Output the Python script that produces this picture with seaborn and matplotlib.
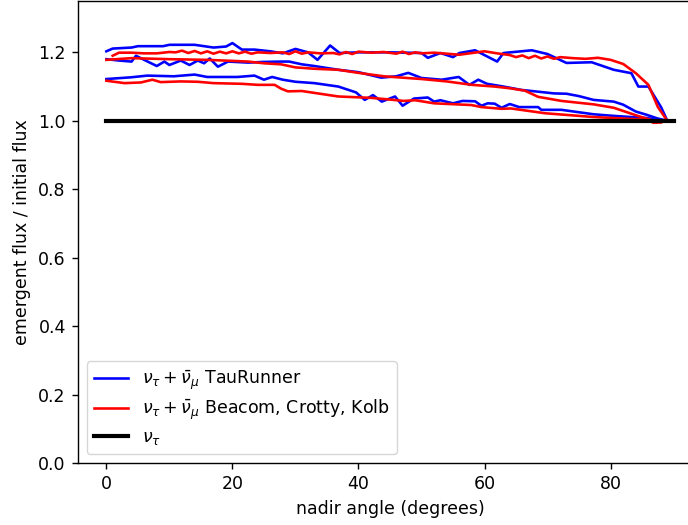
import matplotlib
matplotlib.use("Agg")
import matplotlib.pyplot as plt
import seaborn as sns
import pandas as pd

# ---- data ----
bt_x = [0, 1, 4, 5, 9, 10, 14, 17, 19, 20, 21.5, 23.5, 26, 28, 30, 32, 33.5, 35.5, 37, 40, 45, 50, 51, 53, 55, 56, 58.5, 62, 63, 67.5, 70, 73, 77, 80.5, 83.3, 84.4, 86, 88, 89]
bt_y = [1.203, 1.211, 1.214, 1.218, 1.218, 1.222, 1.222, 1.214, 1.217, 1.227, 1.208, 1.208, 1.203, 1.197, 1.21, 1.20, 1.178, 1.22, 1.198, 1.20, 1.20, 1.198, 1.184, 1.198, 1.186, 1.198, 1.206, 1.173, 1.198, 1.206, 1.195, 1.169, 1.171, 1.149, 1.139, 1.10, 1.10, 1.04, 1.0]

rt_x = [1, 2, 4, 6, 8, 10, 11, 12, 13, 14, 15, 16, 17, 18, 19, 20, 21, 22, 23, 24, 26, 28, 29, 30, 31, 32, 34, 36, 37, 38, 39, 40, 42, 44, 46, 47, 48, 49, 50, 52, 54, 56, 58, 60, 62, 64, 65, 66, 67, 68, 69, 70, 71, 72, 74, 76, 78, 80, 82, 84, 86, 87.5, 89]
rt_y = [1.19, 1.199, 1.199, 1.197, 1.197, 1.201, 1.20, 1.205, 1.198, 1.204, 1.197, 1.203, 1.196, 1.202, 1.197, 1.203, 1.197, 1.202, 1.196, 1.20, 1.198, 1.200, 1.195, 1.203, 1.196, 1.200, 1.197, 1.198, 1.194, 1.201, 1.195, 1.202, 1.199, 1.201, 1.196, 1.202, 1.195, 1.200, 1.197, 1.199, 1.196, 1.193, 1.198, 1.203, 1.197, 1.192, 1.186, 1.191, 1.183, 1.190, 1.182, 1.188, 1.181, 1.186, 1.183, 1.181, 1.184, 1.178, 1.166, 1.139, 1.105, 1.04, 1.0]

bm_x = [0, 2, 4, 4.7, 6, 8, 9.2, 10, 11.8, 13.2, 14.5, 15.5, 16.4, 17.7, 19.3, 22.5, 25, 27.7, 29, 31, 33, 36.8, 40, 43.6, 46, 47.9, 50, 53.2, 55.9, 57.6, 59, 60.4, 63, 65.9, 68.5, 71, 73, 75, 77.3, 80.5, 82, 84, 85.8, 87.4, 89]
bm_y = [1.18, 1.176, 1.173, 1.19, 1.178, 1.16, 1.173, 1.163, 1.176, 1.163, 1.176, 1.168, 1.182, 1.158, 1.173, 1.17, 1.172, 1.173, 1.173, 1.165, 1.16, 1.149, 1.142, 1.126, 1.13, 1.14, 1.125, 1.12, 1.128, 1.105, 1.12, 1.108, 1.10, 1.09, 1.085, 1.08, 1.079, 1.072, 1.061, 1.056, 1.047, 1.027, 1.017, 1.007, 1.0]

rm_x = [0, 4, 10, 16, 20, 22.5, 25, 27.7, 30, 33, 36.8, 40, 44, 47, 50, 54, 58, 61.6, 64, 66.4, 68.5, 72.2, 77.3, 80.5, 84.2, 86.8, 88]
rm_y = [1.178, 1.183, 1.18, 1.178, 1.175, 1.173, 1.168, 1.165, 1.156, 1.152, 1.149, 1.14, 1.13, 1.126, 1.122, 1.115, 1.105, 1.10, 1.095, 1.088, 1.07, 1.058, 1.048, 1.038, 1.015, 1.0, 0.998]

bl_x = [0, 3.9, 6.5, 10.7, 14, 16, 20.8, 23.5, 25, 26.3, 28, 30, 33, 36.8, 39.6, 41, 42.3, 43.7, 45.8, 47, 48.8, 51, 52, 53, 55, 56.5, 58.5, 59.5, 60.5, 61.6, 62.7, 64, 65.5, 68.5, 69, 72.2, 77.3, 80, 84, 85.8, 88]
bl_y = [1.122, 1.127, 1.132, 1.13, 1.135, 1.128, 1.128, 1.132, 1.12, 1.128, 1.12, 1.114, 1.11, 1.10, 1.083, 1.061, 1.075, 1.056, 1.071, 1.044, 1.065, 1.068, 1.056, 1.06, 1.051, 1.058, 1.057, 1.044, 1.051, 1.05, 1.038, 1.049, 1.04, 1.04, 1.032, 1.032, 1.019, 1.015, 1.01, 1.008, 1.0]

rl_x = [0, 2.9, 5.5, 7.3, 8.6, 11.8, 14.5, 17, 21.5, 24, 26.7, 27.7, 28.8, 31, 36.8, 42, 45, 47.2, 49, 52, 57.9, 59.5, 62.7, 64.2, 69.6, 77.3, 85.8, 86.8, 88]
rl_y = [1.117, 1.11, 1.112, 1.12, 1.113, 1.115, 1.114, 1.11, 1.108, 1.105, 1.105, 1.094, 1.086, 1.087, 1.071, 1.067, 1.062, 1.058, 1.060, 1.051, 1.046, 1.04, 1.035, 1.036, 1.022, 1.011, 1.003, 0.994, 0.995]

ref_x = [0, 90]
ref_y = [1.0, 1.0]

labels = [r'$\nu_\tau + \bar{\nu}_\mu$ TauRunner',
          r'$\nu_\tau + \bar{\nu}_\mu$ Beacom, Crotty, Kolb',
          r'$\nu_\tau$']

s = 1.25
plt.rcParams.update({
    'font.size': 10 * s,
    'axes.linewidth': 0.8 * s,
    'xtick.major.size': 3.5 * s, 'ytick.major.size': 3.5 * s,
    'xtick.major.width': 0.8 * s, 'ytick.major.width': 0.8 * s,
    'xtick.major.pad': 3.5 * s, 'ytick.major.pad': 3.5 * s,
    'axes.labelpad': 4.0 * s,
    'legend.frameon': True,
})

fig = plt.figure(figsize=(6.88, 5.25), dpi=100)
ax = fig.add_axes([78/688, 62/525, 624/688, 462/525])

series = [
    (bt_x, bt_y, 'blue', labels[0]),
    (bm_x, bm_y, 'blue', None),
    (bl_x, bl_y, 'blue', None),
    (rt_x, rt_y, 'red', labels[1]),
    (rm_x, rm_y, 'red', None),
    (rl_x, rl_y, 'red', None),
]
for xs, ys, c, lab in series:
    df = pd.DataFrame({'x': xs, 'y': ys})
    sns.lineplot(data=df, x='x', y='y', ax=ax, color=c, lw=1.5 * s,
                 estimator=None, sort=False, label=lab, legend=False)

df = pd.DataFrame({'x': ref_x, 'y': ref_y})
sns.lineplot(data=df, x='x', y='y', ax=ax, color='black', lw=2.4 * s,
             estimator=None, sort=False, label=labels[2], legend=False)

ax.set_xlim(-4.5, 94.5)
ax.set_ylim(0, 1.35)
ax.set_yticks([0.0, 0.2, 0.4, 0.6, 0.8, 1.0, 1.2])
ax.set_xticks([0, 20, 40, 60, 80])
ax.set_xlabel('nadir angle (degrees)')
ax.set_ylabel('emergent flux / initial flux')
ax.legend(loc='lower left', labelspacing=0.35)

fig.savefig('out.png', dpi=100)
